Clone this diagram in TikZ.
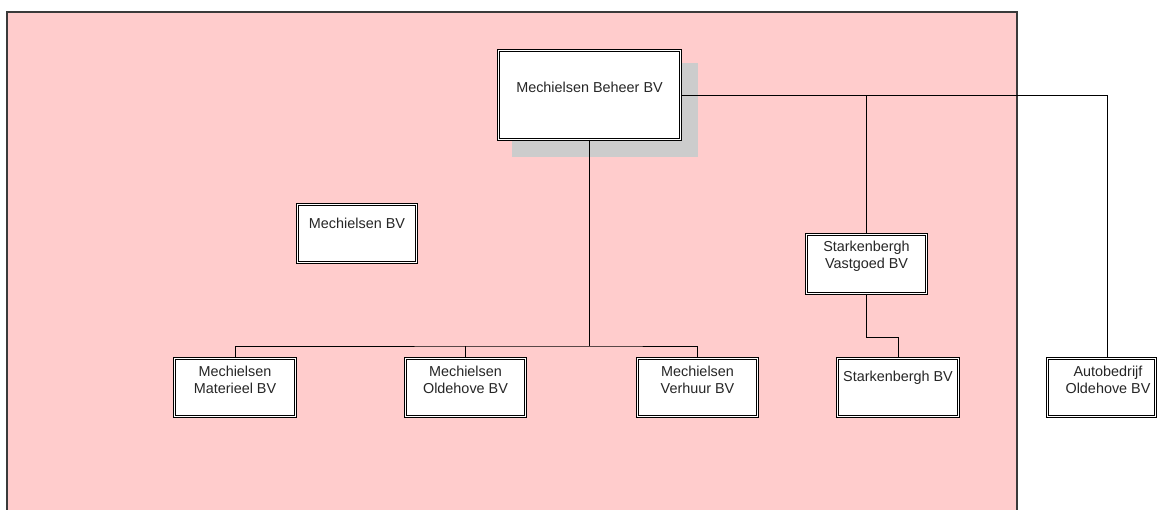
\documentclass[tikz,border=0pt]{standalone}
\usepackage{fontspec}
\setmainfont{Liberation Sans}
\definecolor{pinkbg}{HTML}{FFCCCC}
\definecolor{shadowgray}{HTML}{CCCCCC}
\definecolor{frame}{HTML}{3A3A3A}
\begin{document}
\begin{tikzpicture}[x=1pt,y=-1pt,
  orgbox/.style={draw=black, double=white, fill=white, line width=0.75pt, double distance=1.5pt, inner sep=0pt, rectangle},
  lbl/.style={font=\fontsize{14.4}{17}\selectfont, align=center, inner sep=0pt, text=black!85},
  conn/.style={draw=black, line width=0.9pt}]
\useasboundingbox (0,0) rectangle (1158,509);
% background region
\fill[pinkbg] (7,12) rectangle (1017,530);
\draw[frame, line width=1.3pt] (7,530) -- (7,12) -- (1017,12) -- (1017,530);
% shadow
\fill[shadowgray] (512,63) rectangle (698,157);
% boxes
\node[orgbox, minimum width=182pt, minimum height=89pt] (beheer) at (589.5,95) {};
\node[orgbox, minimum width=119pt, minimum height=58pt] (mbv) at (357,233.5) {};
\node[orgbox, minimum width=121pt, minimum height=58pt] (mat) at (235,387.5) {};
\node[orgbox, minimum width=120pt, minimum height=58pt] (old) at (465.5,387.5) {};
\node[orgbox, minimum width=120pt, minimum height=58pt] (ver) at (697.5,387.5) {};
\node[orgbox, minimum width=120pt, minimum height=59pt] (vast) at (866.5,264) {};
\node[orgbox, minimum width=121pt, minimum height=58pt] (sbv) at (898,387.5) {};
\node[orgbox, minimum width=108pt, minimum height=58pt] (auto) at (1101.5,387.5) {};
% labels
\node[lbl] (tbeheer) at (589.5,87) {Mechielsen Beheer BV};
\node[lbl] (tmbv) at (357,223) {Mechielsen BV};
\node[lbl] (tmat) at (235,379.5) {Mechielsen\\Materieel BV};
\node[lbl] (told) at (465.5,379.5) {Mechielsen\\Oldehove BV};
\node[lbl] (tver) at (697.5,379.5) {Mechielsen\\Verhuur BV};
\node[lbl] (tvast) at (866.5,256) {Starkenbergh\\Vastgoed BV};
\node[lbl] (tsbv) at (898,378) {Starkenbergh BV};
\node[lbl] (tauto) at (1108,379.5) {Autobedrijf\\Oldehove BV};
% connectors
\coordinate (bus) at (589.5,346);
\coordinate (elb) at (866.5,337);
\coordinate (autotop) at (1107,357);
\draw[conn] (beheer.south) -- (bus);
\draw[conn] (mat.north) |- (bus) -| (ver.north);
\draw[conn] (old.north) -- (old.north |- bus);
\draw[conn] (beheer.east) -| (autotop);
\draw[conn] (beheer.east -| vast.north) -- (vast.north);
\draw[conn] (vast.south) -- (elb) -| (sbv.north);
\end{tikzpicture}
\end{document}
